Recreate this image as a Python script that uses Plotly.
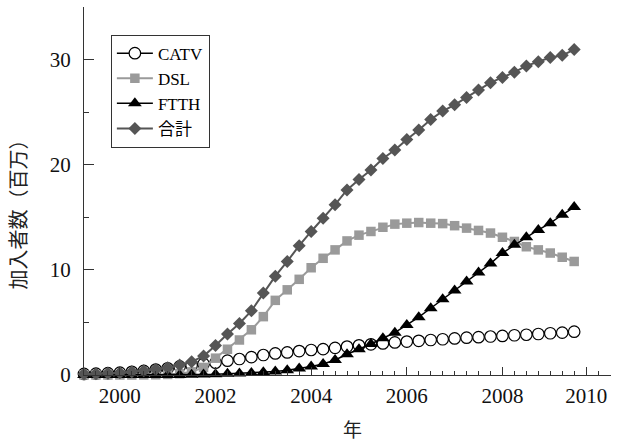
import plotly.graph_objects as go

# Quarterly broadband subscribers (millions), 1999 Q2 .. 2009 Q3
quarters = [1999.25 + 0.25 * i for i in range(42)]

catv = [0.10, 0.13, 0.17, 0.22, 0.30, 0.39, 0.52, 0.64, 0.82, 0.93,
        1.05, 1.17, 1.36, 1.52, 1.70, 1.90, 2.05, 2.15, 2.28, 2.38,
        2.46, 2.58, 2.70, 2.82, 2.92, 3.00, 3.10, 3.18, 3.25, 3.33,
        3.40, 3.48, 3.55, 3.60, 3.66, 3.72, 3.78, 3.83, 3.90, 3.97,
        4.03, 4.12]
dsl = [0.00, 0.00, 0.00, 0.00, 0.00, 0.01, 0.02, 0.05, 0.12, 0.30,
       0.72, 1.60, 2.45, 3.33, 4.30, 5.55, 7.10, 8.10, 9.10, 10.20,
       11.10, 11.90, 12.75, 13.30, 13.65, 14.05, 14.35, 14.44, 14.50, 14.44,
       14.40, 14.20, 13.97, 13.75, 13.50, 13.10, 12.70, 12.20, 11.90, 11.60,
       11.20, 10.80]
ftth = [0.00, 0.00, 0.00, 0.00, 0.00, 0.00, 0.00, 0.00, 0.01, 0.02,
        0.04, 0.07, 0.11, 0.15, 0.20, 0.26, 0.33, 0.46, 0.62, 0.80,
        1.05, 1.43, 1.97, 2.45, 2.95, 3.50, 4.03, 4.76, 5.50, 6.35,
        7.20, 8.03, 8.90, 9.74, 10.60, 11.60, 12.38, 13.10, 13.80, 14.44,
        15.24, 15.97]
total = [0.10, 0.13, 0.17, 0.22, 0.30, 0.40, 0.55, 0.70, 0.95, 1.27,
         1.80, 2.80, 3.90, 4.90, 6.10, 7.80, 9.40, 10.80, 12.30, 13.65,
         14.90, 16.20, 17.60, 18.60, 19.50, 20.60, 21.40, 22.40, 23.30, 24.30,
         25.10, 25.70, 26.40, 27.10, 27.80, 28.30, 28.80, 29.40, 29.80, 30.20,
         30.40, 30.95]

x_tick_vals = [2000, 2002, 2004, 2006, 2008, 2009.75]
x_tick_text = ["2000", "2002", "2004", "2006", "2008", "2010"]

SERIF = "Liberation Serif"
CJK = "Noto Sans CJK JP"
AXIS = "#333333"

fig = go.Figure()
fig.add_trace(go.Scatter(
    x=quarters, y=catv, name="CATV", mode="lines+markers",
    line=dict(color="black", width=1.5),
    marker=dict(symbol="circle", size=11.5, color="white",
                line=dict(color="black", width=1.2)),
    cliponaxis=False))
fig.add_trace(go.Scatter(
    x=quarters, y=dsl, name="DSL", mode="lines+markers",
    line=dict(color="#9a9a9a", width=2),
    marker=dict(symbol="square", size=9.5, color="#9a9a9a"),
    cliponaxis=False))
fig.add_trace(go.Scatter(
    x=quarters, y=ftth, name="FTTH", mode="lines+markers",
    line=dict(color="black", width=1.5),
    marker=dict(symbol="triangle-up", size=12, color="black"),
    cliponaxis=False))
fig.add_trace(go.Scatter(
    x=quarters, y=total, name="合計", mode="lines+markers",
    line=dict(color="#555555", width=2),
    marker=dict(symbol="diamond", size=10, color="#555555"),
    cliponaxis=False))

fig.update_layout(
    width=618, height=443,
    margin=dict(l=84, r=7, t=7, b=68),
    paper_bgcolor="white", plot_bgcolor="white",
    font=dict(family=SERIF, size=20, color="black"),
    showlegend=True,
    legend=dict(x=0.051, y=0.925, xanchor="left", yanchor="top",
                bordercolor="#333333", borderwidth=1, bgcolor="white",
                font=dict(family=SERIF + ", " + CJK, size=17), itemwidth=36,
                entrywidth=84, entrywidthmode="pixels",
                tracegroupgap=0),
    xaxis=dict(range=[1999.25, 2010.27], showgrid=False, zeroline=False,
               showline=True, linecolor=AXIS, linewidth=1,
               tickmode="array", tickvals=x_tick_vals, ticktext=x_tick_text,
               tickfont=dict(family=SERIF, size=21, color="#111111"),
               ticks="inside", ticklen=8, tickcolor=AXIS,
               ticklabelstandoff=2,
               minor=dict(ticks="inside", ticklen=4, tickcolor=AXIS,
                          dtick=0.25, tick0=2000, showgrid=False)),
    yaxis=dict(range=[0, 35], showgrid=False, zeroline=False,
               showline=True, linecolor=AXIS, linewidth=1,
               tickmode="linear", tick0=0, dtick=10,
               tickfont=dict(family=SERIF, size=21, color="#111111"),
               ticks="inside", ticklen=10, tickcolor=AXIS,
               ticklabelstandoff=8,
               minor=dict(ticks="inside", ticklen=5, tickcolor=AXIS,
                          dtick=5, showgrid=False)),
    annotations=[
        dict(text="加入者数（百万）", xref="paper", yref="paper",
             x=-0.127, y=0.45, textangle=-90, showarrow=False,
             xanchor="center", yanchor="middle",
             font=dict(family=CJK, size=20, color="#222222")),
        dict(text="年", xref="paper", yref="paper",
             x=0.51, y=-0.145, showarrow=False,
             xanchor="center", yanchor="middle",
             font=dict(family=CJK, size=19, color="#222222")),
    ],
)

fig.write_html("out.html")
